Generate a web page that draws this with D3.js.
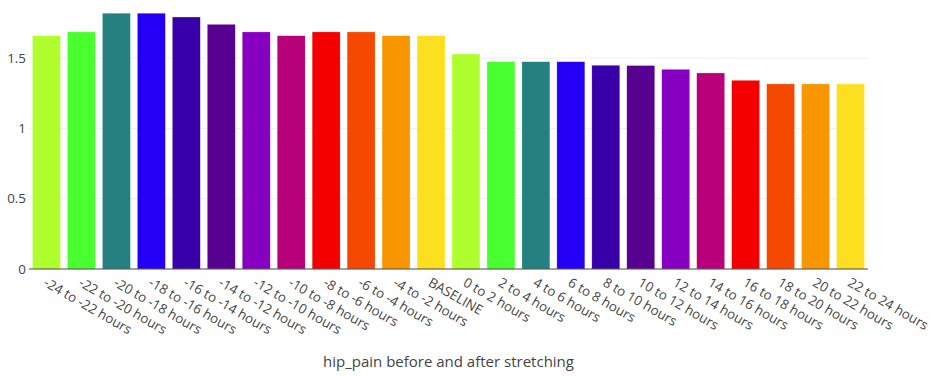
<!DOCTYPE html>
<html>
<head>
<meta charset="utf-8">
<script src="https://cdn.jsdelivr.net/npm/d3@7"></script>
<style>
  body { margin: 0; background: #fff; }
  text { font-family: "Open Sans", verdana, arial, sans-serif; fill: #444; }
</style>
</head>
<body>
<svg id="chart" width="937" height="377"></svg>
<script>
var categories = ['-24 to -22 hours', '-22 to -20 hours', '-20 to -18 hours', '-18 to -16 hours',
  '-16 to -14 hours', '-14 to -12 hours', '-12 to -10 hours', '-10 to -8 hours', '-8 to -6 hours',
  '-6 to -4 hours', '-4 to -2 hours', 'BASELINE', '0 to 2 hours', '2 to 4 hours', '4 to 6 hours',
  '6 to 8 hours', '8 to 10 hours', '10 to 12 hours', '12 to 14 hours', '14 to 16 hours',
  '16 to 18 hours', '18 to 20 hours', '20 to 22 hours', '22 to 24 hours'];
var values = [1.659, 1.686, 1.819, 1.819, 1.792, 1.74, 1.686, 1.659, 1.686, 1.686, 1.659, 1.659,
  1.529, 1.474, 1.474, 1.474, 1.449, 1.447, 1.42, 1.394, 1.342, 1.316, 1.316, 1.316];
var palette = ['#afff2f', '#49ff30', '#248180', '#2300f5', '#3800a8', '#580090', '#8700c2',
  '#b8007a', '#f50000', '#f54800', '#f89600', '#fce020'];
var yTicks = [0, 0.5, 1, 1.5];
var titleText = 'hip_pain before and after stretching';

var svg = d3.select("#chart"),
    margin = {top: 0, left: 29, bottom: 108, right: 69},
    width = +svg.attr("width"),
    height = +svg.attr("height");

var x = d3.scaleBand()
    .domain(categories)
    .range([margin.left, width - margin.right])
    .paddingInner(0.2)
    .paddingOuter(0.1);

var y = d3.scaleLinear()
    .domain([0, 1.913])
    .range([height - margin.bottom, margin.top]);

// grid
svg.append("g")
    .selectAll("line")
    .data(yTicks.filter(d => d > 0))
  .enter().append("line")
    .attr("x1", margin.left).attr("x2", width - margin.right)
    .attr("y1", d => y(d)).attr("y2", d => y(d))
    .attr("stroke", "#eee");

// bars
svg.append("g")
    .selectAll("rect")
    .data(values)
  .enter().append("rect")
    .attr("x", (d, i) => x(categories[i]))
    .attr("y", d => y(d))
    .attr("width", x.bandwidth())
    .attr("height", d => y(0) - y(d))
    .attr("fill", (d, i) => palette[i % palette.length])
    .attr("stroke", "rgba(255,255,255,0.5)")
    .attr("stroke-width", 0.5);

// zero line
svg.append("line")
    .attr("x1", margin.left).attr("x2", width - margin.right)
    .attr("y1", y(0)).attr("y2", y(0))
    .attr("stroke", "#444");

// y axis labels
var yAxis = svg.append("g")
    .attr("transform", `translate(${margin.left},0)`)
    .call(d3.axisLeft(y).tickValues(yTicks).tickFormat(d3.format("~g")).tickSize(0).tickPadding(3));
yAxis.select(".domain").remove();
yAxis.selectAll("text")
    .style("font-size", "13.4px")
    .style("font-family", '"Open Sans", verdana, arial, sans-serif')
    .attr("fill", "#444");

// x labels
svg.append("g")
    .selectAll("text")
    .data(categories)
  .enter().append("text")
    .attr("transform", d => `translate(${x(d) + x.bandwidth() / 2 + 1},${y(0) + 8}) rotate(30)`)
    .attr("dy", "0.71em")
    .attr("text-anchor", "start")
    .style("font-size", "13.4px")
    .text(d => d);

// title
svg.append("text")
    .attr("x", (margin.left + width - margin.right) / 2)
    .attr("y", 367)
    .attr("text-anchor", "middle")
    .style("font-size", "15px")
    .text(titleText);
</script>
</body>
</html>
